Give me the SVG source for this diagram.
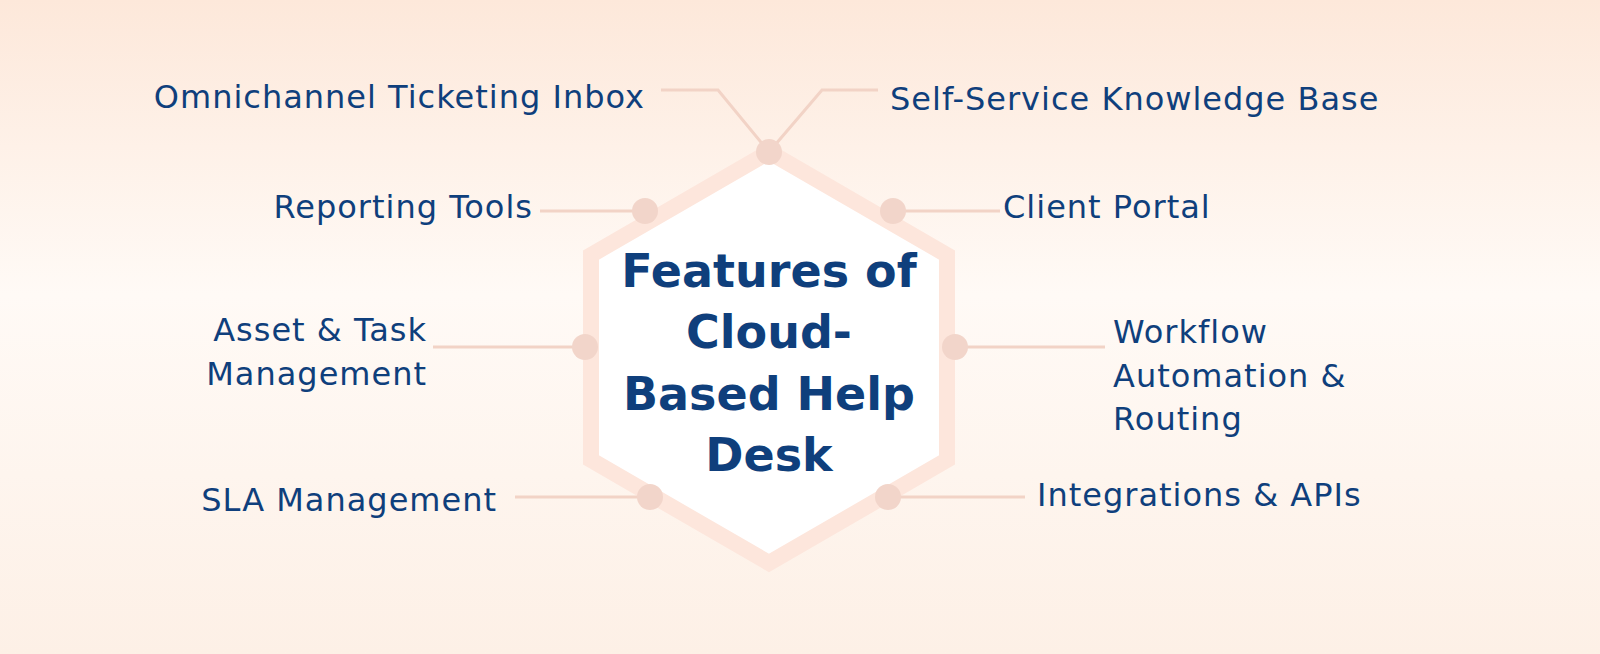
<svg xmlns="http://www.w3.org/2000/svg" width="1600" height="654" viewBox="0 0 1600 654">
<defs>
<linearGradient id="bg" x1="0" y1="0" x2="0" y2="1">
<stop offset="0" stop-color="#fde8da"/>
<stop offset="0.45" stop-color="#fffaf6"/>
<stop offset="1" stop-color="#fdf0e6"/>
</linearGradient>
<style>
.lbl{font-family:"DejaVu Sans","Liberation Sans",sans-serif;font-size:32px;letter-spacing:1px;fill:#0f3f7c}
.ttl{font-family:"DejaVu Sans","Liberation Sans",sans-serif;font-size:46px;font-weight:bold;fill:#0f3f7c;text-anchor:middle}
.ln{stroke:#f2d3c6;stroke-width:3;fill:none}
.dot{fill:#f2d5ca}
</style>
</defs>
<rect width="1600" height="654" fill="url(#bg)"/>
<g id="hexagon">
<polygon points="769,152 947,255 947,460 769,563 591,460 591,255" fill="#fff" stroke="#fde6dc" stroke-width="16"/>
<text class="ttl" x="769" y="287">Features of</text>
<text class="ttl" x="769" y="348">Cloud-</text>
<text class="ttl" x="769" y="410">Based Help</text>
<text class="ttl" x="769" y="471">Desk</text>
</g>
<g id="connectors">
<polyline class="ln" points="661,90 718,90 769,152"/>
<polyline class="ln" points="769,152 822,90 878,90"/>
<line class="ln" x1="540" y1="211" x2="645" y2="211"/>
<line class="ln" x1="893" y1="211" x2="1000" y2="211"/>
<line class="ln" x1="433" y1="347" x2="585" y2="347"/>
<line class="ln" x1="955" y1="347" x2="1105" y2="347"/>
<line class="ln" x1="515" y1="497" x2="650" y2="497"/>
<line class="ln" x1="888" y1="497" x2="1025" y2="497"/>
<circle class="dot" cx="769" cy="152" r="13"/>
<circle class="dot" cx="645" cy="211" r="13"/>
<circle class="dot" cx="893" cy="211" r="13"/>
<circle class="dot" cx="585" cy="347" r="13"/>
<circle class="dot" cx="955" cy="347" r="13"/>
<circle class="dot" cx="650" cy="497" r="13"/>
<circle class="dot" cx="888" cy="497" r="13"/>
</g>
<g id="n-omni"><text class="lbl" x="645" y="108" text-anchor="end">Omnichannel Ticketing Inbox</text></g>
<g id="n-self"><text class="lbl" x="890" y="110">Self-Service Knowledge Base</text></g>
<g id="n-report"><text class="lbl" x="533" y="218" text-anchor="end">Reporting Tools</text></g>
<g id="n-client"><text class="lbl" x="1003" y="218">Client Portal</text></g>
<g id="n-asset"><text class="lbl" text-anchor="end"><tspan x="427" y="341">Asset &amp; Task</tspan><tspan x="427" y="385">Management</tspan></text></g>
<g id="n-workflow"><text class="lbl"><tspan x="1113" y="343">Workflow</tspan><tspan x="1113" y="387">Automation &amp;</tspan><tspan x="1113" y="430">Routing</tspan></text></g>
<g id="n-sla"><text class="lbl" x="497" y="511" text-anchor="end">SLA Management</text></g>
<g id="n-integ"><text class="lbl" x="1037" y="506">Integrations &amp; APIs</text></g>
</svg>
